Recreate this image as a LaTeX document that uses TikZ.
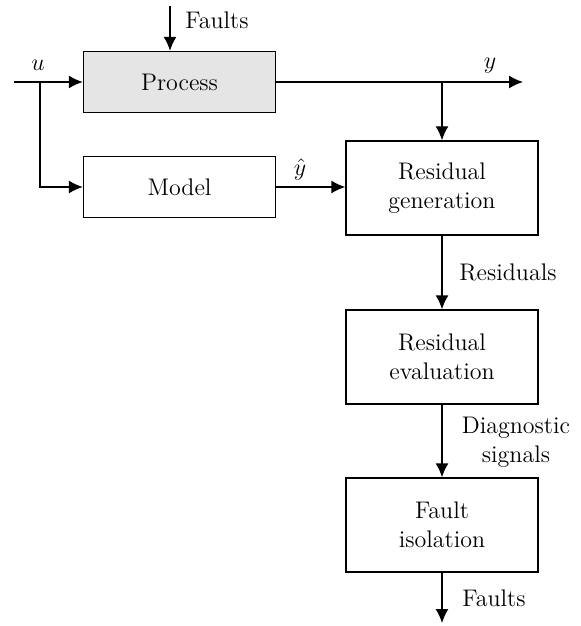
\documentclass[tikz,border=0pt]{standalone}
\usetikzlibrary{arrows.meta}
\begin{document}
\begin{tikzpicture}[x=0.5pt,y=-0.5pt,
  box/.style={draw, line width=0.7pt, minimum width=96pt, inner sep=0pt, align=center, font=\fontsize{12}{14.5}\selectfont},
  smallbox/.style={box, minimum height=30.5pt},
  bigbox/.style={box, minimum height=47pt},
  arr/.style={line width=0.7pt, -{Latex[length=7pt,width=6.5pt]}},
  ln/.style={line width=0.7pt},
  lbl/.style={font=\fontsize{12}{14.5}\selectfont, inner sep=0pt, align=center}]
\useasboundingbox (0,0) rectangle (581,626);
\node[smallbox, fill=black!10] (process) at (179.5,82) {Process};
\node[smallbox] (model) at (179.5,187) {Model};
\node[bigbox] (resgen) at (442,188) {Residual\\generation};
\node[bigbox] (reseval) at (442,357) {Residual\\evaluation};
\node[bigbox] (fiso) at (442,525) {Fault\\isolation};
\coordinate (ftop) at (170,6);
\coordinate (uin) at (14,82);
\coordinate (ubr) at (40,82);
\coordinate (yout) at (523,82);
\coordinate (ybr) at (442,82);
\coordinate (fout) at (442,623);
\draw[arr] (ftop) -- (process.north -| ftop);
\node[lbl, anchor=west] (flbl) at (185,20) {Faults};
\draw[arr] (uin) -- (process.west);
\draw[arr] (ubr) |- (model.west);
\node[lbl] (ulbl) at (38,65) {$u$};
\draw[arr] (process.east) -- (yout);
\draw[arr] (ybr) -- (resgen.north);
\node[lbl] (ylbl) at (490,66) {$y$};
\draw[arr] (model.east) -- (model.east -| resgen.west);
\node[lbl] (yhlbl) at (300,170) {$\hat{y}$};
\draw[arr] (resgen.south) -- (reseval.north);
\node[lbl, anchor=west] (rlbl) at (459,272) {Residuals};
\draw[arr] (reseval.south) -- (fiso.north);
\node[lbl] (dlbl) at (516,442) {Diagnostic\\signals};
\draw[arr] (fiso.south) -- (fout);
\node[lbl, anchor=west] (folbl) at (462,598) {Faults};
\end{tikzpicture}
\end{document}
